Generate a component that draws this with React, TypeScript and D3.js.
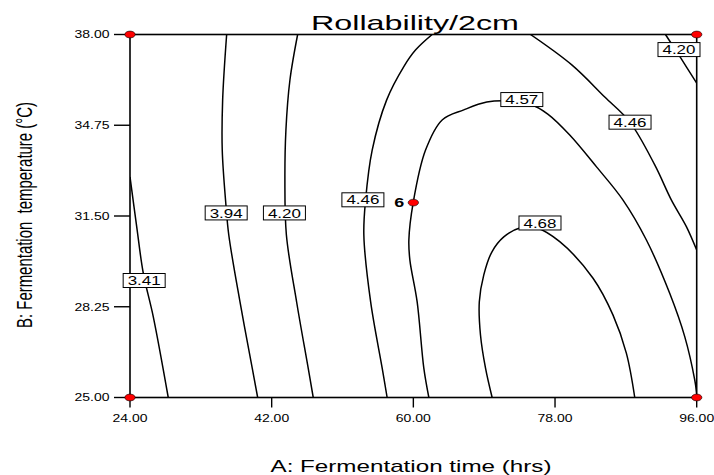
import React from "react";
import * as d3 from "d3";

const title = "Rollability/2cm";
const xLabel = "A: Fermentation time (hrs)";
const yLabel = "B: Fermentation  temperature (°C)";
const xDomain = [24, 96];
const yDomain = [25, 38];
const xTicks = [24, 42, 60, 78, 96];
const yTicks = [25, 28.25, 31.5, 34.75, 38];

// contour lines: [A (hrs), B (°C)]
const contour341 = [[24.0, 32.9], [24.85, 31.12], [25.69, 29.45], [26.96, 27.89], [28.86, 25.0]];
const contour394 = [[36.28, 38], [35.77, 35.65], [35.72, 33.86], [36.19, 31.89], [36.55, 30.82], [37.97, 28.43], [39.53, 26.05], [40.22, 25]];
const contour420a = [[45.3, 38], [44.32, 36.37], [43.81, 34.58], [43.68, 32.79], [43.87, 30.82], [45.17, 28.42], [46.64, 26.05], [47.28, 25]];
const contour446a = [[62.39, 38], [60.3, 37.45], [58.79, 36.85], [56.6, 35.65], [54.77, 33.86], [53.93, 32.07], [53.71, 30.82], [54.57, 28.43], [56.04, 26.05], [56.67, 25]];
const contour446b = [[74.88, 38], [80.13, 36.91], [84.32, 35.76], [87.49, 34.87], [90.67, 33.33], [92.79, 32.07], [94.69, 31.12], [96, 30.28]];
const contour457 = [[61.97, 25], [61.33, 26.05], [60.48, 28.43], [59.56, 29.92], [59.43, 30.64], [59.98, 31.98], [61.55, 33.86], [63.66, 34.94], [66.41, 35.3], [69.33, 35.58], [72.25, 35.62], [74.79, 35.51], [77.08, 35.15], [79.87, 34.4], [83.3, 33.25], [86.64, 32.07], [89.61, 30.64], [92.57, 28.73], [94.48, 27.18], [95.75, 25.63], [96, 25.13]];
const contour468 = [[70.01, 25], [69.17, 26.05], [68.53, 27.24], [68.38, 28.43], [68.95, 29.39], [69.97, 30.21], [71.49, 30.75], [73.52, 31.07], [75.68, 31.07], [78.6, 30.58], [82.83, 29.27], [85.37, 27.95], [87.07, 26.58], [88.13, 25]];
const contour420b = [[92.03, 38], [93.97, 37.16], [96, 36.26]];
const contours = [contour341, contour394, contour420a, contour446a, contour446b, contour457, contour468, contour420b];

// contour labels
const labelText = ["3.41", "3.94", "4.20", "4.46", "4.57", "4.68", "4.46", "4.20"];
const labelA = [25.8, 36.22, 43.62, 53.59, 73.78, 76.09, 87.53, 93.75];
const labelB = [29.19, 31.61, 31.61, 32.08, 35.67, 31.25, 34.86, 37.46];

// design points
const pointA = [24, 24, 96, 96, 60];
const pointB = [25, 38, 25, 38, 31.98];
const centerCount = "6";

const FONT = "'Liberation Sans', Arial, sans-serif";

export default function App() {
  const W = 714, H = 475;
  const left = 130, right = 696.7, top = 34.5, bottom = 397.5;
  const x = d3.scaleLinear().domain(xDomain).range([left, right]);
  const y = d3.scaleLinear().domain(yDomain).range([bottom, top]);
  const line = d3
    .line<number[]>()
    .x((d) => x(d[0]))
    .y((d) => y(d[1]))
    .curve(d3.curveCatmullRom.alpha(0.5));

  return (
    <svg width={W} height={H} style={{ position: "absolute", left: 0, top: 0, background: "#fff" }} fontFamily={FONT}>
      <defs>
        <clipPath id="plot">
          <rect x={left} y={top} width={right - left} height={bottom - top} />
        </clipPath>
      </defs>
      <rect x={0} y={0} width={W} height={H} fill="#fff" />
      <text x={415} y={30} fontSize={21} textAnchor="middle" textLength={208} lengthAdjust="spacingAndGlyphs">
        {title}
      </text>
      <g clipPath="url(#plot)">
        {contours.map((c, i) => (
          <path key={i} d={line(c) || ""} fill="none" stroke="#000" strokeWidth={1.5} />
        ))}
      </g>
      <rect x={left} y={top} width={right - left} height={bottom - top} fill="none" stroke="#000" strokeWidth={1.6} />
      {xTicks.map((t) => (
        <g key={"x" + t}>
          <line x1={x(t)} x2={x(t)} y1={bottom} y2={bottom + 10} stroke="#000" strokeWidth={1.4} />
          <text x={x(t)} y={421.5} fontSize={10.5} textAnchor="middle" textLength={35} lengthAdjust="spacingAndGlyphs">
            {t.toFixed(2)}
          </text>
        </g>
      ))}
      {yTicks.map((t) => (
        <g key={"y" + t}>
          <line x1={left - 16} x2={left} y1={y(t)} y2={y(t)} stroke="#000" strokeWidth={1.4} />
          <text x={109.5} y={y(t) + 3.8} fontSize={10.5} textAnchor="end" textLength={35} lengthAdjust="spacingAndGlyphs">
            {t.toFixed(2)}
          </text>
        </g>
      ))}
      <text x={411} y={472} fontSize={17} textAnchor="middle" textLength={281} lengthAdjust="spacingAndGlyphs">
        {xLabel}
      </text>
      <g transform="translate(31.7,215) scale(1.5,1) rotate(-90)">
        <text x={0} y={0} fontSize={15} textAnchor="middle" textLength={226} lengthAdjust="spacingAndGlyphs" style={{ whiteSpace: "pre" }}>
          {yLabel}
        </text>
      </g>
      {labelText.map((t, i) => (
        <g key={"l" + i} transform={`translate(${x(labelA[i])},${y(labelB[i])})`}>
          <rect x={-21} y={-7} width={42} height={14} fill="#fff" stroke="#000" strokeWidth={1} />
          <text x={0} y={4.6} fontSize={12.5} textAnchor="middle" textLength={33} lengthAdjust="spacingAndGlyphs">
            {t}
          </text>
        </g>
      ))}
      <text x={x(60) - 9} y={y(31.98) + 4.3} fontSize={12} fontWeight="bold" textAnchor="end" textLength={10} lengthAdjust="spacingAndGlyphs">
        {centerCount}
      </text>
      {pointA.map((a, i) => (
        <ellipse key={"p" + i} cx={x(a)} cy={y(pointB[i])} rx={5.2} ry={3.4} fill="#ff0000" stroke="#000" strokeWidth={0.6} />
      ))}
    </svg>
  );
}
